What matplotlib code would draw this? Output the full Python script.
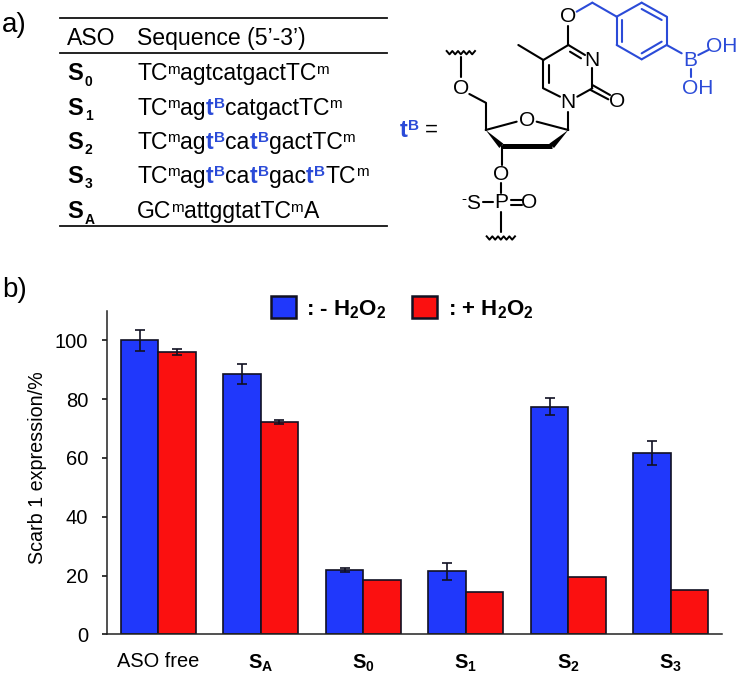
import numpy as np
import matplotlib
matplotlib.use("Agg")
import matplotlib.pyplot as plt
from matplotlib.patches import Patch, Polygon

plt.rcParams['font.family'] = ['Liberation Sans', 'DejaVu Sans']
plt.rcParams['mathtext.default'] = 'regular'

BLUE = "#2038fb"
RED = "#fb1010"
TXT_BLUE = "#2b4bd8"

groups = ["ASO free", "S$_{A}$", "S$_{0}$", "S$_{1}$", "S$_{2}$", "S$_{3}$"]
minus_h2o2 = [100, 88.7, 21.9, 21.4, 77.5, 61.7]
plus_h2o2 = [96.1, 72.3, 18.4, 14.5, 19.6, 15.1]
minus_err = [3.6, 3.4, 0.8, 2.8, 2.9, 4.2]
plus_err = [1.1, 0.7, 0, 0.1, 0, 0]
yticks = [0, 20, 40, 60, 80, 100]

table_names = ["0", "1", "2", "3", "A"]
# m = superscript m, B = blue t with superscript B
table_seqs = ["TC|m|agtcatgactTC|m",
              "TC|m|ag|B|catgactTC|m",
              "TC|m|ag|B|ca|B|gactTC|m",
              "TC|m|ag|B|ca|B|gac|B|TC|m",
              "GC|m|attggtatTC|m|A"]
table_base = [80, 115, 149, 183, 218]

W, H = 738, 675
fig = plt.figure(figsize=(W / 100, H / 100), dpi=100)

# overlay in pixel coords for panel a)
ov = fig.add_axes([0, 0, 1, 1])
ov.set_xlim(0, W)
ov.set_ylim(H, 0)
ov.axis("off")
rend = fig.canvas.get_renderer()


def run(x, y, s, size=16.6, color="black", weight="normal"):
    t = ov.text(x, y, s, fontsize=size, color=color, fontweight=weight, va="baseline", ha="left")
    return x + t.get_window_extent(rend).width


def seq_text(x, y, seq):
    for part in seq.split("|"):
        if part == "m":
            x = run(x - 0.5, y - 6.5, "m", size=11) + 0.5
        elif part == "B":
            x = run(x, y, "t", color=TXT_BLUE, weight="bold")
            x = run(x + 0.5, y - 7, "B", size=11, color=TXT_BLUE, weight="bold") + 0.5
        else:
            x = run(x, y, part)


run(2, 32, "a)", size=20)
run(2, 297, "b)", size=20)
for yy in [18, 52.5, 226]:
    ov.plot([60, 387], [yy, yy], c="#111111", lw=1.3)
run(67, 45, "ASO")
run(137, 45, "Sequence (5’-3’)")
for name, seq, yb in zip(table_names, table_seqs, table_base):
    xe = run(67, yb, "S", weight="bold", size=17)
    run(xe + 2, yb + 5.5, name, weight="bold", size=10)
    seq_text(137, yb, seq)


# structure, coordinates are from the 3x crop
def zx(v):
    return 380 + v / 3


def zy(v):
    return v / 3


def bonds(segs, color="black", lw=1.5):
    for a, b, c, d in segs:
        ov.plot([zx(a), zx(c)], [zy(b), zy(d)], c=color, lw=lw, solid_capstyle="round")


def atom(x, y, s, color="black", size=15):
    ov.text(zx(x), zy(y), s, color=color, fontsize=size, ha="center", va="center")


def wave(x0, y0):
    xs = [x0 + i * 8.5 for i in range(11)]
    ys = [y0 + (5 if i % 2 else -5) for i in range(11)]
    ov.plot([zx(v) for v in xs], [zy(v) for v in ys], c="black", lw=1.4, solid_joinstyle="round")


black_bonds = [(242, 170, 242, 232), (268, 282, 317, 308), (317, 308, 317, 390),
               (317, 390, 410, 365), (470, 365, 565, 390), (565, 390, 565, 335),
               (365, 437, 365, 495), (363, 550, 363, 580), (392, 600, 425, 600),
               (392, 615, 425, 615), (308, 607, 340, 607), (363, 635, 363, 695),
               (540, 290, 490, 265), (490, 265, 490, 180), (507, 250, 507, 195),
               (490, 180, 565, 135), (565, 135, 615, 165), (570, 155, 603, 175),
               (637, 205, 637, 265), (637, 265, 592, 290), (637, 255, 690, 285),
               (632, 270, 685, 298), (490, 180, 415, 135), (565, 135, 565, 78)]
blue_bonds = [(590, 35, 637, 8), (637, 8, 710, 50), (710, 50, 785, 8), (785, 8, 860, 50),
              (860, 50, 860, 135), (860, 135, 785, 178), (785, 178, 710, 135), (710, 135, 710, 50),
              (725, 60, 725, 125), (785, 27, 845, 60), (785, 160, 845, 125),
              (860, 135, 905, 160), (955, 165, 985, 150), (932, 207, 932, 232)]
bonds(black_bonds)
bonds(blue_bonds, color=TXT_BLUE)
wave(200, 158)
wave(320, 714)
ov.plot([zx(365), zx(515)], [zy(437), zy(437)], c="black", lw=3.6, solid_capstyle="butt")
ov.add_patch(Polygon([(zx(317), zy(390)), (zx(358), zy(444)), (zx(370), zy(431))], fc="black", ec="none"))
ov.add_patch(Polygon([(zx(565), zy(390)), (zx(508), zy(431)), (zx(522), zy(444))], fc="black", ec="none"))

atom(243, 265, "O")
atom(440, 360, "O")
atom(363, 522, "O")
atom(363, 608, "P")
atom(448, 608, "O")
atom(278, 610, "S")
atom(252, 596, "-", size=11)
atom(565, 308, "N")
atom(637, 180, "N")
atom(710, 305, "O")
atom(563, 50, "O")
atom(932, 180, "B", TXT_BLUE)
atom(1025, 138, "OH", TXT_BLUE)
atom(953, 265, "OH", TXT_BLUE)
xe = run(zx(58), zy(412), "t", color=TXT_BLUE, weight="bold", size=17)
run(xe + 0.5, zy(390), "B", color=TXT_BLUE, weight="bold", size=11)
run(zx(134), zy(408), "=", size=16)

# bar chart
ax = fig.add_axes([107 / W, 1 - 634.3 / H, 615 / W, 323.3 / H])
x = np.arange(len(groups))
bw = 0.364
err_style = dict(ecolor="#111122", capsize=3.4, error_kw=dict(lw=1.2, capthick=1.2))
ax.bar(x - bw / 2, minus_h2o2, bw, yerr=minus_err, color=BLUE, edgecolor="#111122", linewidth=1.2, **err_style)
ax.bar(x + bw / 2, plus_h2o2, bw, color=RED, edgecolor="#111122", linewidth=1.2)
ax.errorbar((x + bw / 2)[:2], plus_h2o2[:2], yerr=plus_err[:2], fmt="none", ecolor="#111122", elinewidth=1.2, capsize=3.4, capthick=1.2)
ax.set_xlim(-0.5, 5.5)
ax.set_ylim(0, 110)
ax.spines[["top", "right"]].set_visible(False)
ax.spines[["left", "bottom"]].set_linewidth(1.1)
ax.spines[["left", "bottom"]].set_color("#222222")
ax.set_yticks(yticks)
ax.tick_params(axis="y", length=3.6, width=1.1, pad=10, labelsize=14.5)
ax.set_xticks(x)
ax.set_xticklabels(groups, fontsize=14.4)
for lab in ax.get_xticklabels()[1:]:
    lab.set_fontweight("bold")
ax.tick_params(axis="x", length=0, pad=13)
ax.set_ylabel("Scarb 1 expression/%", fontsize=14.2)
ax.yaxis.set_label_coords(-0.097, 0.517)

handles = [Patch(fc=BLUE, ec="#111122", lw=1.8), Patch(fc=RED, ec="#111122", lw=1.8)]
ax.legend(handles, [": - H$_{2}$O$_{2}$", ": + H$_{2}$O$_{2}$"], ncol=2, frameon=False,
          loc="center", bbox_to_anchor=(0.48, 1.0077),
          prop=dict(size=16, weight="bold"), handlelength=1.13, handleheight=1.13,
          handletextpad=0.48, columnspacing=1.16, borderpad=0, borderaxespad=0)

fig.savefig("out.png", dpi=100)
